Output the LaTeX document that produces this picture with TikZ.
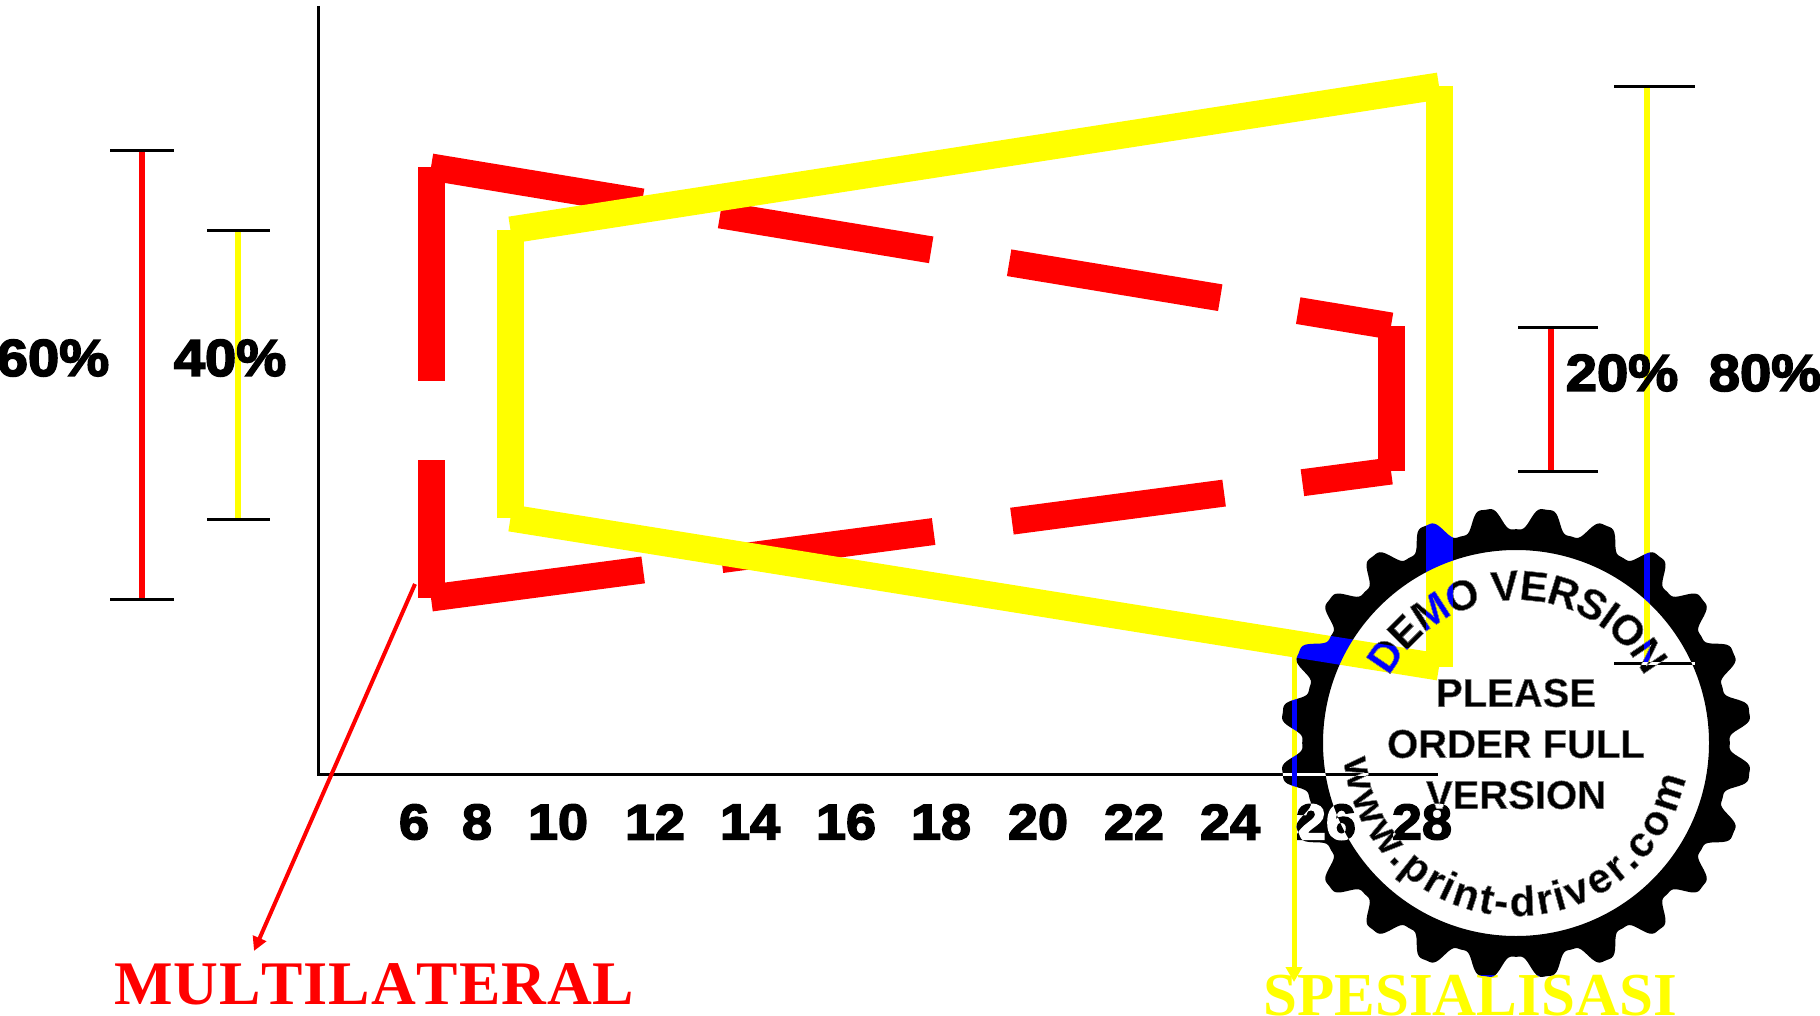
\documentclass[tikz,border=0pt]{standalone}
\usepackage{fontspec}
\setmainfont{Liberation Sans}[BoldFeatures={FakeBold=0.6}]
\newfontfamily\heavyfont[BoldFeatures={FakeBold=3.2,FakeStretch=1.08}]{Liberation Sans}
\newfontfamily\timesfont[Kerning=Off]{Liberation Serif}
\newfontfamily\timeswide[Kerning=Off,LetterSpace=1.5]{Liberation Serif}
\usetikzlibrary{arrows.meta}
\definecolor{pureyellow}{RGB}{255,255,0}
\definecolor{purered}{RGB}{255,0,0}
\tikzset{
  redband/.style={draw=purered,line width=27pt,dash pattern=on 214pt off 79pt},
  yelband/.style={draw=pureyellow,line width=27pt},
  barcap/.style={draw=black,line width=3pt},
  redbar/.style={draw=purered,line width=6pt},
  yelbar/.style={draw=pureyellow,line width=6pt},
  axisline/.style={draw=black,line width=3pt},
  pct/.style={font=\heavyfont\bfseries\fontsize{52}{52}\selectfont,inner sep=0pt},
  tick/.style={font=\heavyfont\bfseries\fontsize{50}{50}\selectfont,inner sep=0pt},
  bigred/.style={font=\timeswide\bfseries\fontsize{62}{62}\selectfont,text=purered,inner sep=0pt},
  bigyel/.style={font=\timesfont\bfseries\fontsize{61}{61}\selectfont,text=pureyellow,inner sep=0pt},
  stamptext/.style={font=\bfseries\fontsize{40}{40}\selectfont,text=white,inner sep=0pt},
  stamparc/.style={font=\bfseries\fontsize{42}{42}\selectfont,text=white,inner sep=0pt},
}
\begin{document}
\begin{tikzpicture}[x=1pt,y=-1pt]
\fill[white] (0,0) rectangle (1820,1016);
\useasboundingbox (0,0) rectangle (1820,1016);
% axes
\coordinate (ytop) at (318,6);
\coordinate (orig) at (318,774);
\coordinate (xend) at (1438,774);
\draw[axisline] (ytop) -- (orig) -- (xend);
% red shape
\coordinate (rtl) at (431,167);
\coordinate (rbl) at (431,598);
\coordinate (rtr) at (1391,326);
\coordinate (rbr) at (1391,471);
\path[redband] (rtl) -- (rbl);
\path[redband] (rtl) -- (rtr);
\path[redband] (rbl) -- (rbr);
\path[redband] (rtr) -- (rbr);
% yellow shape
\coordinate (ytl) at (510.5,230);
\coordinate (ybl) at (510.5,518);
\coordinate (ytr) at (1439,86);
\coordinate (ybr) at (1439,667);
\path[yelband] (ytl) -- (ybl);
\path[yelband] (ytl) -- (ytr);
\path[yelband] (ybl) -- (ybr);
\path[yelband] (ytr) -- (ybr);
% left bars
\coordinate (a1) at (142,151); \coordinate (a2) at (142,599);
\draw[redbar] (a1) -- (a2);
\draw[barcap] (110,151) -- (174,151);
\draw[barcap] (110,599) -- (174,599);
\coordinate (b1) at (238,231); \coordinate (b2) at (238,519);
\draw[yelbar] (b1) -- (b2);
\draw[barcap] (207,231) -- (270,231);
\draw[barcap] (207,519) -- (270,519);
% right bars
\coordinate (c1) at (1551,327); \coordinate (c2) at (1551,471);
\draw[redbar] (c1) -- (c2);
\draw[barcap] (1518,327) -- (1598,327);
\draw[barcap] (1518,471) -- (1598,471);
\coordinate (d1) at (1647,87); \coordinate (d2) at (1647,663);
\draw[yelbar] (d1) -- (d2);
\draw[barcap] (1614,87) -- (1695,87);
\draw[barcap] (1614,663) -- (1695,663);
% percentages
\node[pct] (p60) at (53,358) {60\%};
\node[pct] (p40) at (230,358) {40\%};
\node[pct] (p20) at (1622,373) {20\%};
\node[pct] (p80) at (1765,373) {80\%};
% ticks
\foreach \t/\px in {6/414,8/477,10/558,12/655,14/750,16/846,18/941,20/1038,22/1134,24/1230,26/1326,28/1422}
  \node[tick] (tick\t) at (\px,822) {\t};
% labels and arrows
\node[bigred,anchor=base west] (multi) at (114,1004) {MULTILATERAL};
\node[bigyel,anchor=base west] (spes) at (1263,1015) {SPESIALISASI};
\coordinate (ms) at (415,584);
\coordinate (me) at (254,951);
\draw[purered,line width=4pt,-{Triangle[length=14pt,width=14pt]}] (ms) -- (me);
\coordinate (ss) at (1294,652);
\coordinate (se) at (1294,982);
\draw[pureyellow,line width=5pt,-{Triangle[length=15pt,width=16pt]}] (ss) -- (se);
% stamp: inverts what lies beneath it
\begin{scope}[blend mode=difference]
\fill[white,even odd rule] plot[domain=-180:180,samples=721,variable=\q]
   ({1516+(224.5+12.5*cos(24*(\q-7.5))-1.8*cos(72*(\q-7.5)))*cos(\q)},{743-(224.5+12.5*cos(24*(\q-7.5))-1.8*cos(72*(\q-7.5)))*sin(\q)}) -- cycle
   (1516,743) circle[radius=193];
\foreach \ch/\c [count=\i] in {D/.361,E/1.0555,M/1.8055,O/2.611,V/3.6115,E/4.2785,R/4.973,S/5.6675,I/6.14,O/6.668,N/7.418}{
  \pgfmathsetmacro\a{90-(\c-3.8895)*15.806}
  \node[stamparc,anchor=base,rotate=\a-90] (top\i) at ({1517+145*cos(\a)},{745-145*sin(\a)}) {\ch};
}
\foreach \ch/\c [count=\i] in {w/.389,w/1.167,w/1.945,./2.473,p/2.9175,r/3.4175,i/3.751,n/4.1955,t/4.6675,-/5.0005,d/5.4725,r/5.9725,i/6.306,v/6.723,e/7.279,r/7.7515,./8.085,c/8.502,o/9.0855,m/9.8355}{
  \pgfmathsetmacro\a{267+(\c-5.14)*16}
  \node[stamparc,anchor=base,rotate=\a-270] (bot\i) at ({1516+173*cos(\a)},{743-173*sin(\a)}) {\ch};
}
\node[stamptext] (l1) at (1516,693) {PLEASE};
\node[stamptext] (l2) at (1516,744) {ORDER FULL};
\node[stamptext] (l3) at (1516,795) {VERSION};
\end{scope}
\end{tikzpicture}
\end{document}
